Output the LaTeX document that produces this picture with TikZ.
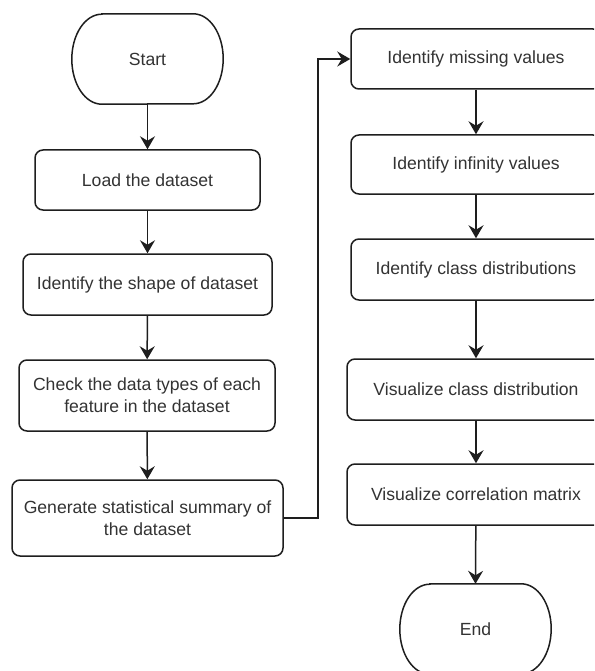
\documentclass[tikz,border=0pt]{standalone}
\usepackage{fontspec}
\setmainfont{Liberation Sans}
\usetikzlibrary{arrows.meta}
\definecolor{txt}{HTML}{333333}
\definecolor{ln}{HTML}{1E1E1E}
\tikzset{
  every node/.style={font=\fontsize{17.6}{22}\selectfont, text=txt, align=center},
  stepbox/.style={draw=ln, line width=1.5pt, rounded corners=8pt, fill=white, inner sep=0pt},
  termbox/.style={inner sep=0pt, minimum width=151pt, minimum height=90pt},
  arr/.style={draw=ln, line width=1.5pt, -{Stealth[length=13pt, width=15pt, inset=4.5pt]}},
}
% terminator outline: flat top and bottom, elliptic ends
\newcommand{\terminal}[1]{%
  \draw[ln, line width=1.5pt, fill=white]
    ([xshift=30pt]#1.north west) -- ([xshift=-30pt]#1.north east)
    arc[start angle=90, end angle=-90, x radius=30pt, y radius=45pt]
    -- ([xshift=30pt]#1.south west)
    arc[start angle=270, end angle=90, x radius=30pt, y radius=45pt] -- cycle;}
\begin{document}
\begin{tikzpicture}[x=1pt, y=-1pt]
  \fill[white] (0,0) rectangle (594,671);
  \path[use as bounding box, clip] (0,0) rectangle (594,671);

  % left column
  \node[termbox] (start) at (147.5,59) {};
  \terminal{start}
  \node at (start) {Start};
  \node[stepbox, minimum width=225pt, minimum height=60pt] (load) at (147.5,180) {Load the dataset};
  \node[stepbox, minimum width=249pt, minimum height=61pt] (shape) at (147.5,284.5) {Identify the shape of dataset};
  \node[stepbox, minimum width=256pt, minimum height=71pt] (types) at (147,395.5) {Check the data types of each\\feature in the dataset};
  \node[stepbox, minimum width=271pt, minimum height=76pt] (summ) at (147.5,518) {Generate statistical summary of\\the dataset};

  % right column
  \node[stepbox, minimum width=250pt, minimum height=60pt] (miss) at (476,59) {Identify missing values};
  \node[stepbox, minimum width=250pt, minimum height=59pt] (inf) at (476,164.5) {Identify infinity values};
  \node[stepbox, minimum width=250pt, minimum height=61pt] (cls) at (476,269.5) {Identify class distributions};
  \node[stepbox, minimum width=258pt, minimum height=61pt] (viscls) at (476,389.5) {Visualize class distribution};
  \node[stepbox, minimum width=258pt, minimum height=61pt] (corr) at (476,494.5) {Visualize correlation matrix};
  \node[termbox] (end) at (475.5,629) {};
  \terminal{end}
  \node at (end) {End};

  % connectors
  \draw[arr] (start) -- (load);
  \draw[arr] (load) -- (shape);
  \draw[arr] (shape) -- (types);
  \draw[arr] (types) -- (summ);
  \draw[arr] (summ.east) -- ++(34,0) |- (miss.west);
  \draw[arr] (miss) -- (inf);
  \draw[arr] (inf) -- (cls);
  \draw[arr] (cls) -- (viscls);
  \draw[arr] (viscls) -- (corr);
  \draw[arr] (corr) -- (end.north);
\end{tikzpicture}
\end{document}
